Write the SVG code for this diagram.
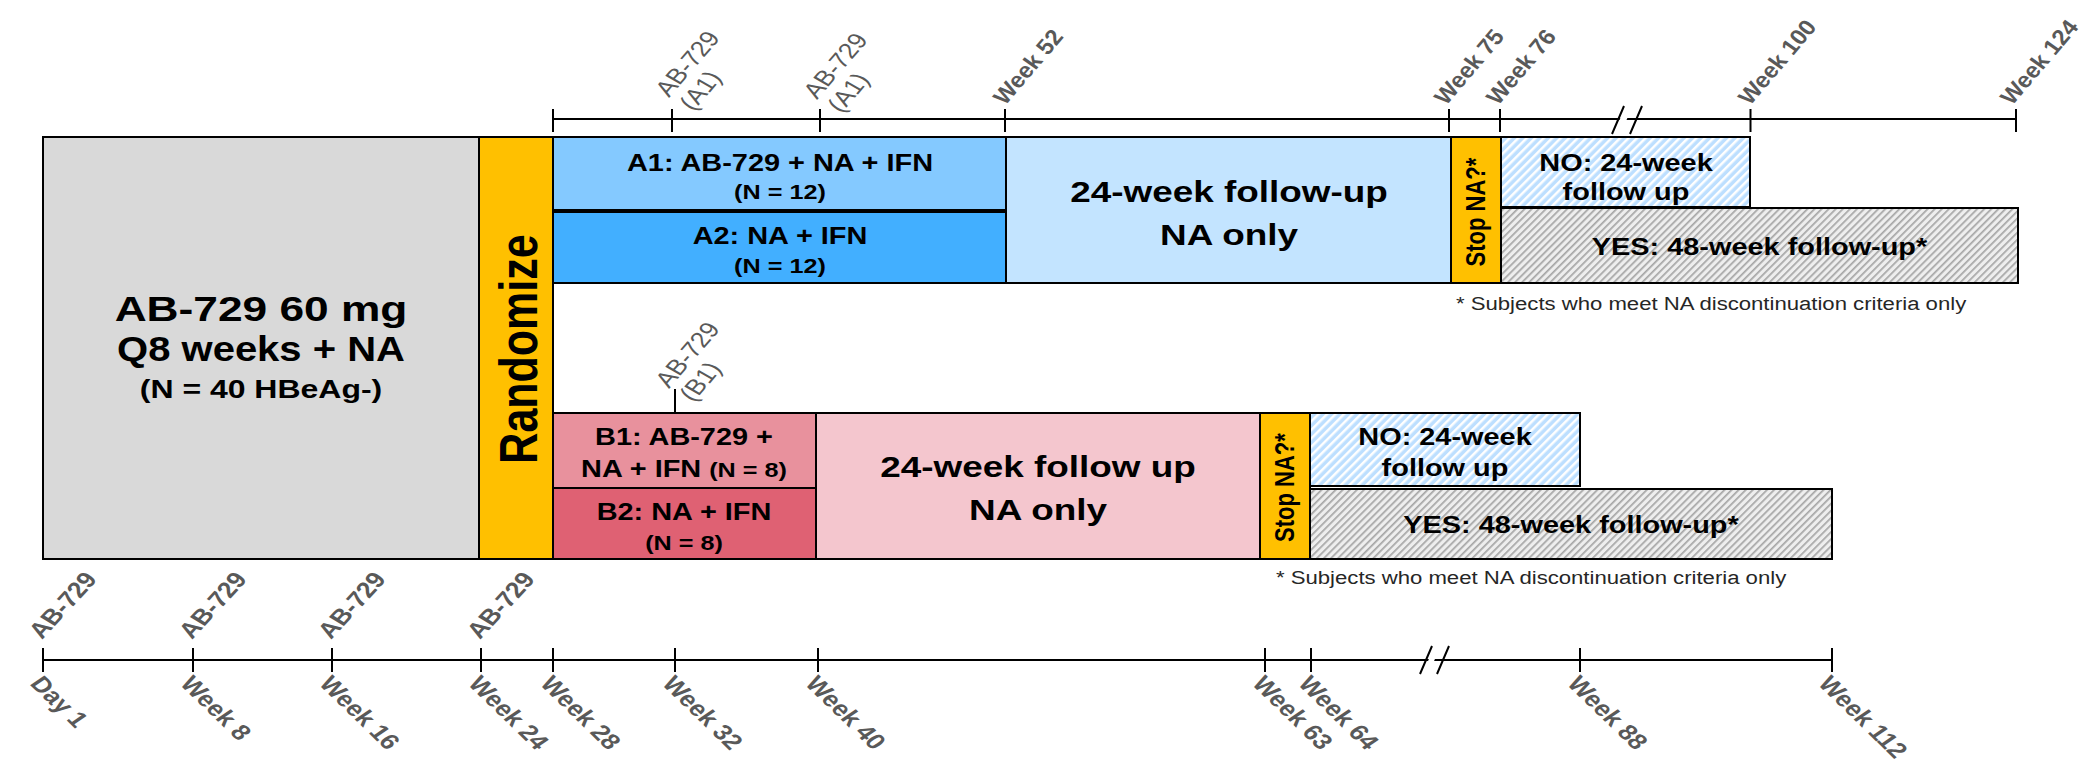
<svg xmlns="http://www.w3.org/2000/svg" width="2085" height="777" viewBox="0 0 2085 777">
<style>
text{font-family:"Liberation Sans",Arial,sans-serif}
.b{font-weight:bold;fill:#000;text-anchor:middle}
.f23{font-size:23.5px}
.f20{font-size:20.5px}
.f30{font-size:30px}
.lb{font-weight:bold;fill:#595959;font-size:22px}
.lr{fill:#595959;font-size:22px}
.fn{fill:#262626;font-size:18px}
.box{stroke:#000;stroke-width:2}
.ax{stroke:#000;stroke-width:2;fill:none}
</style>
<defs>
<pattern id="hb" width="6" height="6" patternUnits="userSpaceOnUse" patternTransform="rotate(45)"><rect width="6" height="6" fill="#BDDFFF"/><rect width="2.5" height="6" fill="#FFFFFF"/></pattern>
<pattern id="hg" width="5" height="5" patternUnits="userSpaceOnUse" patternTransform="rotate(45)"><rect width="5" height="5" fill="#EEEEEE"/><rect width="1.7" height="5" fill="#A6A6A6"/></pattern>
</defs>
<rect width="2085" height="777" fill="#fff"/>

<g id="lead-in">
<rect class="box" x="43" y="137" width="436" height="422" fill="#D9D9D9"/>
<text class="b" font-size="35" transform="translate(261,321) scale(1.23,1)" textLength="238" lengthAdjust="spacingAndGlyphs">AB-729 60 mg</text>
<text class="b" font-size="35" transform="translate(261,361) scale(1.23,1)" textLength="234" lengthAdjust="spacingAndGlyphs">Q8 weeks + NA</text>
<text class="b" font-size="26" transform="translate(261,398) scale(1.23,1)">(N = 40 HBeAg-)</text>
</g>

<g id="randomize">
<rect class="box" x="479" y="137" width="74" height="422" fill="#FFC000"/>
<text class="b" font-size="43" transform="translate(537,349) scale(1.23,1) rotate(-90)">Randomize</text>
</g>

<g id="a1">
<rect class="box" x="553" y="137" width="453" height="73" fill="#84C9FF"/>
<text class="b f23" transform="translate(780,171) scale(1.23,1)">A1: AB-729 + NA + IFN</text>
<text class="b f20" transform="translate(780,199) scale(1.23,1)">(N = 12)</text>
</g>
<g id="a2">
<rect class="box" x="553" y="212" width="453" height="71" fill="#42AFFF"/>
<text class="b f23" transform="translate(780,244) scale(1.23,1)">A2: NA + IFN</text>
<text class="b f20" transform="translate(780,273) scale(1.23,1)">(N = 12)</text>
</g>
<g id="a-followup">
<rect class="box" x="1006" y="137" width="445" height="146" fill="#C3E4FF"/>
<text class="b f30" transform="translate(1229,202) scale(1.23,1)">24-week follow-up</text>
<text class="b f30" transform="translate(1229,245) scale(1.23,1)">NA only</text>
</g>
<g id="a-stop">
<rect class="box" x="1451" y="137" width="50" height="146" fill="#FFC000"/>
<text class="b" font-size="22" transform="translate(1485,212) scale(1.23,1) rotate(-90)">Stop NA?*</text>
</g>
<g id="a-no">
<rect class="box" x="1501" y="137" width="249" height="70" fill="url(#hb)"/>
<text class="b f23" transform="translate(1626,171) scale(1.23,1)">NO: 24-week</text>
<text class="b f23" transform="translate(1626,200) scale(1.23,1)">follow up</text>
</g>
<g id="a-yes">
<rect class="box" x="1501" y="208" width="517" height="75" fill="url(#hg)"/>
<text class="b f23" transform="translate(1759.5,255) scale(1.23,1)">YES: 48-week follow-up*</text>
</g>
<g id="a-note">
<text class="fn" font-size="18.5" transform="translate(1456,310) scale(1.23,1)">* Subjects who meet NA discontinuation criteria only</text>
</g>

<g id="b1">
<rect class="box" x="553" y="413" width="263" height="75" fill="#E8919D"/>
<text class="b f23" transform="translate(684,445) scale(1.23,1)">B1: AB-729 +</text>
<text class="b f23" transform="translate(684,477) scale(1.23,1)">NA + IFN <tspan font-size="20.5">(N = 8)</tspan></text>
</g>
<g id="b2">
<rect class="box" x="553" y="488" width="263" height="71" fill="#DF6173"/>
<text class="b f23" transform="translate(684,520) scale(1.23,1)">B2: NA + IFN</text>
<text class="b f20" transform="translate(684,550) scale(1.23,1)">(N = 8)</text>
</g>
<g id="b-followup">
<rect class="box" x="816" y="413" width="444" height="146" fill="#F4C6CE"/>
<text class="b f30" transform="translate(1038,477) scale(1.23,1)">24-week follow up</text>
<text class="b f30" transform="translate(1038,520) scale(1.23,1)">NA only</text>
</g>
<g id="b-stop">
<rect class="box" x="1260" y="413" width="50" height="146" fill="#FFC000"/>
<text class="b" font-size="22" transform="translate(1293.5,487.5) scale(1.23,1) rotate(-90)">Stop NA?*</text>
</g>
<g id="b-no">
<rect class="box" x="1310" y="413" width="270" height="73" fill="url(#hb)"/>
<text class="b f23" transform="translate(1445,445) scale(1.23,1)">NO: 24-week</text>
<text class="b f23" transform="translate(1445,476) scale(1.23,1)">follow up</text>
</g>
<g id="b-yes">
<rect class="box" x="1310" y="489" width="522" height="70" fill="url(#hg)"/>
<text class="b f23" transform="translate(1571,533) scale(1.23,1)">YES: 48-week follow-up*</text>
</g>
<g id="b-note">
<text class="fn" transform="translate(1276,584) scale(1.23,1)">* Subjects who meet NA discontinuation criteria only</text>
</g>

<g id="connectors">
<path class="ax" d="M553,119H2016M553,109V132M672,109V132M820,109V132M1005,109V132M1449,109V132M1500,109V132M1750.5,109V132M2016,109V132"/>
<polygon points="1614,133 1625,107 1632,107 1621,133" fill="#fff"/>
<path class="ax" d="M1612,134L1624,106M1630,134L1642,106"/>
<path class="ax" d="M675,389V413"/>
<path class="ax" d="M43,660H1832M43,648V672M193,648V672M332,648V672M481,648V672M553,648V672M675,648V672M818,648V672M1265,648V672M1311,648V672M1580,648V672M1832,648V672"/>
<polygon points="1423,673 1434,647 1440,647 1429,673" fill="#fff"/>
<path class="ax" d="M1420,674L1432,646M1437,674L1449,646"/>
</g>

<g id="top-labels">
<text class="lr" transform="translate(669,98) scale(1.23,1) rotate(-55)"><tspan x="0" y="0">AB-729</tspan><tspan x="0" y="24">(A1)</tspan></text>
<text class="lr" transform="translate(817,100) scale(1.23,1) rotate(-55)"><tspan x="0" y="0">AB-729</tspan><tspan x="0" y="24">(A1)</tspan></text>
<text class="lb" transform="translate(1005,106) scale(1.1,1) rotate(-52)">Week 52</text>
<text class="lb" transform="translate(1446,106) scale(1.1,1) rotate(-52)">Week 75</text>
<text class="lb" transform="translate(1498,106) scale(1.1,1) rotate(-52)">Week 76</text>
<text class="lb" transform="translate(1750,106) scale(1.1,1) rotate(-52)">Week 100</text>
<text class="lb" transform="translate(2012,106) scale(1.1,1) rotate(-52)" font-size="21">Week 124</text>
<text class="lr" transform="translate(669,389) scale(1.23,1) rotate(-55)"><tspan x="0" y="0">AB-729</tspan><tspan x="0" y="24">(B1)</tspan></text>
</g>

<g id="bottom-labels">
<text class="lb" transform="translate(42,640) scale(1.23,1) rotate(-53)">AB-729</text>
<text class="lb" transform="translate(192,640) scale(1.23,1) rotate(-53)">AB-729</text>
<text class="lb" transform="translate(331,640) scale(1.23,1) rotate(-53)">AB-729</text>
<text class="lb" transform="translate(480,640) scale(1.23,1) rotate(-53)">AB-729</text>
<text class="lb" transform="translate(29,684) scale(1.23,1) rotate(50)">Day 1</text>
<text class="lb" transform="translate(179,684) scale(1.23,1) rotate(50)">Week 8</text>
<text class="lb" transform="translate(318,684) scale(1.23,1) rotate(50)">Week 16</text>
<text class="lb" transform="translate(467,684) scale(1.23,1) rotate(50)">Week 24</text>
<text class="lb" transform="translate(539,684) scale(1.23,1) rotate(50)">Week 28</text>
<text class="lb" transform="translate(661,684) scale(1.23,1) rotate(50)">Week 32</text>
<text class="lb" transform="translate(804,684) scale(1.23,1) rotate(50)">Week 40</text>
<text class="lb" transform="translate(1251,684) scale(1.23,1) rotate(50)">Week 63</text>
<text class="lb" transform="translate(1297,684) scale(1.23,1) rotate(50)">Week 64</text>
<text class="lb" transform="translate(1566,684) scale(1.23,1) rotate(50)">Week 88</text>
<text class="lb" transform="translate(1817,684) scale(1.23,1) rotate(50)">Week 112</text>
</g>
</svg>
